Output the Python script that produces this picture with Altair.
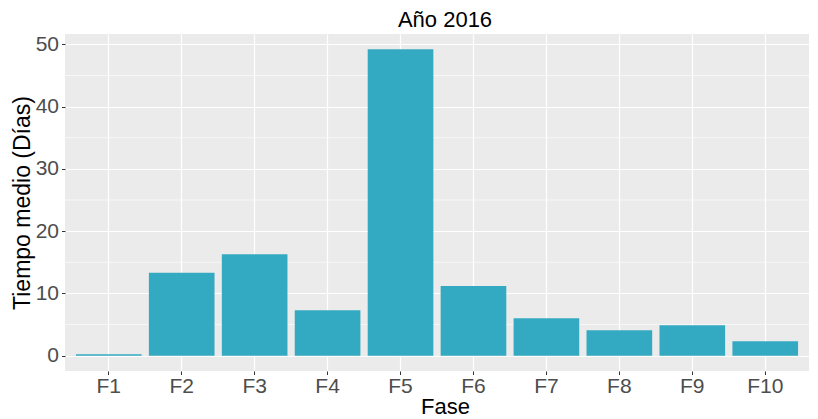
import altair as alt
import pandas as pd

fases = ["F1", "F2", "F3", "F4", "F5", "F6", "F7", "F8", "F9", "F10"]
tiempos = [0.25, 13.3, 16.3, 7.3, 49.2, 11.2, 6.0, 4.1, 4.9, 2.3]
y_ticks = [0, 10, 20, 30, 40, 50]
y_minor = [5, 15, 25, 35, 45]

df = pd.DataFrame({"Fase": fases, "Tiempo": tiempos})
minor_df = pd.DataFrame({"v": y_minor})

y_scale = alt.Scale(domain=[-2.46, 51.66], nice=False, zero=False)
x_scale = alt.Scale(domain=fases, paddingInner=0.1, paddingOuter=0.15)

y_axis = alt.Axis(
    values=y_ticks,
    grid=True,
    gridColor="white",
    gridWidth=1.2,
    domain=False,
    tickColor="#333333",
    tickSize=3.5,
    tickWidth=1,
    labelFont="Liberation Sans",
    labelFontSize=21,
    labelColor="#4D4D4D",
    labelPadding=3,
    titleFont="Liberation Sans",
    titleFontSize=23,
    titleFontWeight="normal",
    titleColor="black",
    titlePadding=1,
)

minor = alt.Chart(minor_df).mark_rule(color="white", strokeWidth=0.6).encode(
    y=alt.Y("v:Q", scale=y_scale, axis=y_axis, title="Tiempo medio (Días)")
)

bars = alt.Chart(df).mark_bar(color="#34AAC2").encode(
    x=alt.X(
        "Fase:N",
        sort=fases,
        scale=x_scale,
        title="Fase",
        axis=alt.Axis(
            labelAngle=0,
            bandPosition=0.5,
            grid=True,
            gridColor="white",
            gridWidth=1.2,
            domain=False,
            tickColor="#333333",
            tickSize=3.5,
            tickWidth=1,
            labelFont="Liberation Sans",
            labelFontSize=21,
            labelColor="#4D4D4D",
            labelPadding=1,
            titleFont="Liberation Sans",
            titleFontSize=22,
            titleFontWeight="normal",
            titleColor="black",
            titlePadding=0,
            titleX=380,
        ),
    ),
    y=alt.Y("Tiempo:Q", scale=y_scale, title="Tiempo medio (Días)", axis=y_axis),
)

chart = (
    alt.layer(minor, bars)
    .properties(
        width=744,
        height=337,
        title=alt.TitleParams(
            "Año 2016",
            font="Liberation Sans",
            fontSize=22,
            fontWeight="normal",
            color="black",
            anchor="middle",
            offset=1,
            dx=8,
        ),
        autosize=alt.AutoSizeParams(type="none"),
        padding={"left": 57, "top": 26, "right": 1, "bottom": 48},
    )
    .configure(background="white")
    .configure_view(fill="#EBEBEB", strokeWidth=0)
)

chart.save("out.html", embed_options={"renderer": "svg", "actions": False})
